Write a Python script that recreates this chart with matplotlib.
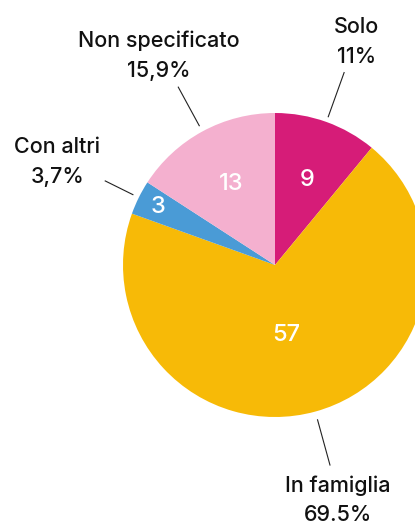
import numpy as np
import matplotlib
matplotlib.use("Agg")
import matplotlib.pyplot as plt

# data
categories = ["Solo", "In famiglia", "Con altri", "Non specificato"]
values = [9, 57, 3, 13]
pct_labels = ["11%", "69.5%", "3,7%", "15,9%"]
colors = ["#D61C78", "#F7BA07", "#4A9BD6", "#F4B0CF"]

# layout (pixels, y measured from the bottom)
W, H = 415, 525
cx, cy, R = 275, 260, 152
inner_r = [0.60, 0.47, 0.86, 0.61]          # radius fraction of the number inside
inner_shift = [-1, -6, 0, 0]                 # angle tweak of the number, degrees
line_r = [(157, 205), (160, 208), (158, 190), (158, 203)]
name_pos = [(356, 492), (338, 33), (57, 372), (159, 478)]   # baseline positions
pct_pos = [(357, 462), (338, 4), (58, 342), (159, 448)]

plt.rcParams["font.family"] = ["Inter", "DejaVu Sans"]

fig = plt.figure(figsize=(W / 100, H / 100), dpi=100)
ax = fig.add_axes([0, 0, 1, 1])

wedges, _ = ax.pie(values, colors=colors, startangle=90, counterclock=False,
                   center=(cx, cy), radius=R,
                   wedgeprops=dict(linewidth=0))
ax.set_xlim(0, W)
ax.set_ylim(0, H)
ax.set_aspect("equal")
ax.axis("off")

for i, w in enumerate(wedges):
    mid = np.deg2rad((w.theta1 + w.theta2) / 2)
    c, s = np.cos(mid), np.sin(mid)
    a = mid + np.deg2rad(inner_shift[i])
    r = inner_r[i] * R
    ax.text(cx + r * np.cos(a), cy + r * np.sin(a), str(values[i]), color="white",
            fontsize=17, fontweight="medium", ha="center", va="center")
    r0, r1 = line_r[i]
    ax.plot([cx + r0 * c, cx + r1 * c], [cy + r0 * s, cy + r1 * s],
            color="#222222", lw=0.8, solid_capstyle="butt")
    ax.text(*name_pos[i], categories[i], fontsize=15.5, fontweight="medium",
            ha="center", va="baseline", color="#111111")
    ax.text(*pct_pos[i], pct_labels[i], fontsize=15.5, fontweight="medium",
            ha="center", va="baseline", color="#111111")

fig.savefig("out.png", dpi=100)
